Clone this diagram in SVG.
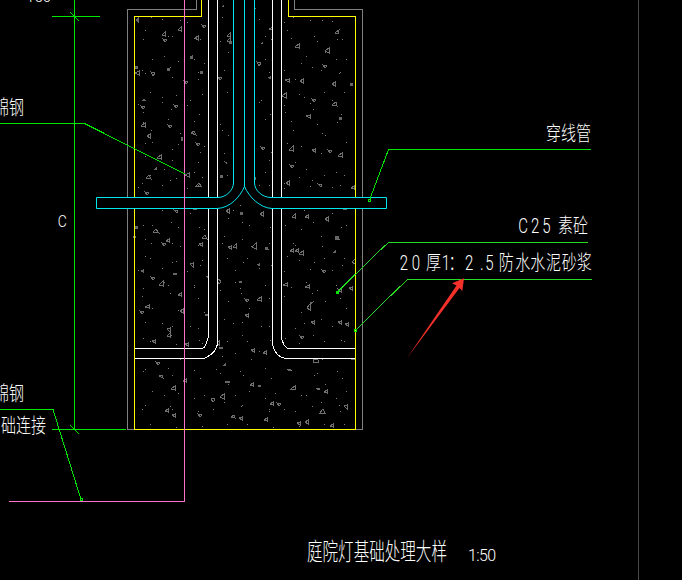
<svg xmlns="http://www.w3.org/2000/svg" width="682" height="580" viewBox="0 0 682 580">
<style>
text{fill:#fff;font-family:Roboto,"Noto Sans CJK SC","Liberation Sans",sans-serif;font-size:20px;font-weight:300}
.ln{fill:none;shape-rendering:crispEdges;stroke-width:1}
.g{stroke:#00e600}.g2{stroke:#22dd22}.w{stroke:#fff}.c{stroke:#00e5ee}.y{stroke:#ffff00}.s{stroke:#808080}.p{stroke:#ff70c8}
.tk{fill:none;stroke:#00e600;stroke-width:1;shape-rendering:crispEdges}
.tri{fill:none;stroke:#6f6f6f;shape-rendering:crispEdges}
.trf{fill:#666;stroke:none;shape-rendering:crispEdges}
</style>
<defs>
<pattern id="dotsA" width="97" height="83" patternUnits="userSpaceOnUse" patternTransform="translate(135 17)">
<path fill="none" stroke="#7c7c7c" shape-rendering="crispEdges" d="M3 4.500h1M27 2.500h1M52 5.500h1M78 3.500h1M8 22.500h1M33 19.500h1M59 21.500h1M85 24.500h1M17 42.500h1M43 44.500h1M69 46.500h1M93 35.500h1M10 56.500h1M37 60.500h1M63 62.500h1M89 53.500h1M15 75.500h1M41 78.500h1M67 77.500h1M92 75.500h1"/>
</pattern>
<pattern id="dotsB" width="71" height="113" patternUnits="userSpaceOnUse" patternTransform="translate(139 23)">
<path fill="none" stroke="#7c7c7c" shape-rendering="crispEdges" d="M6 7.500h1M33 13.500h1M61 16.500h1M25 33.500h1M55 36.500h1M3 47.500h1M31 44.500h1M59 49.500h1M23 74.500h1M51 77.500h1M4 89.500h1M32 86.500h1M60 91.500h1M12 107.500h1M41 110.500h1"/>
</pattern>
</defs>
<rect width="682" height="580" fill="#000"/>
<path d="M638.500 0V580" stroke="#484848" fill="none" shape-rendering="crispEdges"/>

<g id="concrete">
<rect x="135" y="17" width="220" height="412" fill="url(#dotsA)"/>
<rect x="135" y="17" width="220" height="412" fill="url(#dotsB)"/>
<path class="tri" d="M162 35l3-3v4zM163 39l4 1-2 2zM178 30l3-3v4zM195 38l3-2v4zM202 25l4 1-2 2zM135 73l4-2v4zM151 72l4 1-2 3zM184 81l4 1-2 2zM141 106l4 1-2 2zM174 105l4 1-2 2zM218 77l4 1-2 2zM227 36l3-3v4zM227 41l3-3v4zM269 29l4-2v3zM257 62l4 1-2 3zM295 47l4-3v4zM325 51l4-3v5zM335 33l4-3-1 4zM323 65l4 1-2 2zM285 80l4-1v3zM300 81l3-2v4zM332 84l3-2v4zM282 96l4-3v5zM312 99l4 1-2 2zM332 105l4-3 1 4zM306 116l4-1v3zM141 126l4-3v4zM168 125l4 1-2 2zM147 136l3-2v4zM191 133l3-2 2 4zM196 143l4 1-2 2zM157 158l4-3v4zM146 178l3-3 2 4zM185 175l4-2v4zM196 186l3-3 2 3zM145 192l4 1-2 2zM289 150l4-4v5zM312 150l3-1v3zM328 150l4 1-2 2zM338 156l4-3v4zM290 165l4 1-2 2zM318 184l4 1-1 2zM286 183l3-2v4zM351 188l3-2v3zM261 147l4 1-2 2zM226 211l3-2v4zM260 214l3-2v4zM292 217l3-3v4zM305 217l3-2v3zM325 219l3-2v4zM174 210l4 1-1 2zM153 232l3-3 3 4zM166 241l3-2v3zM162 243l4 1-2 2zM202 238l3-3 2 4zM199 244l3-1v3zM190 264l3-1v4zM151 277l4 1-2 2zM159 285l4-4v5zM178 295l3-2v3zM145 307l4-2v3zM140 311l4 1-2 2zM180 311l3-2v4zM167 329l3-1v4zM217 281l2-2 2 3-2 2zM228 247l3-1v3zM233 247l3-3v4zM252 247l4-4v6zM245 299l4 1-2 2zM257 300l4-3v4zM245 315l3-1v3zM290 251l3-2v3zM295 251l3-2v3zM299 254l4-3v4zM352 262l3-3v5zM322 270l4 1-2 2zM283 285l4-2v3zM305 287l4-2v3zM349 288l3-1v3zM338 290l3-1v3zM307 308l3-4v6zM311 322l3-1v3zM338 322l3-1v3zM345 324l3-1v3zM167 336l3-3v4zM152 341l3-1v3zM185 344l3-1v3zM216 343l3-2v4zM251 350l3-1v3zM263 353l3-2v3zM300 336l4 1-2 2zM156 362l4 1-2 2zM159 376l3-1 1 3zM183 381l3-2v3zM171 389l4-3v4zM165 411l3-2v3zM172 415l3-1v3zM198 414l4 1-2 2zM211 399l3-1 1 2-2 2zM220 397l4-3v5zM250 385l3-2v3zM270 404l3-2v3zM277 403l4 1-2 2zM231 417l3-2 1 3zM239 418l3-1v3zM264 420l3-2v3zM291 389l4-3v3zM316 388l4 1-1 1zM324 392l3-2v3zM344 406l3-1v4zM320 413l3-4 2 4zM297 423l3-1v3zM305 422l3-2v4zM330 426l3-2v3zM313 359l5 1v2h-5z"/>
<path class="trf" d="M135 20l4-3v6zM190 56l3-1v4h-3zM135 66h3v3h-3zM167 68h3v3h-3zM200 71h3v3h-3zM141 101l3-3 2 3zM221 7l3-3v3zM254 9l3-3-1 3zM229 41h3v3h-3zM260 44l3-3v3zM267 78l4-2v3zM350 83h3v3h-3zM339 117h3v3h-3zM181 137h2v4h-2zM153 170l4-3v3zM220 175h3v3h-3zM223 161l4 1v2zM253 177h3v3h-3zM240 212h3v3h-3zM343 208h4v2h-4zM193 208h4v2h-4zM135 226h3v3h-3zM133 236h3v2h-3zM140 271l4-2v4zM173 273h4v2h-4zM205 314h4v2h-4zM205 277l4-2v3zM256 265l4-2v3zM265 247h3l1 3h-4zM239 281h3v2h-3zM332 253l4-4v4zM335 236h4v4h-4zM309 303l5-2-2 3zM195 348h4v2h-4zM219 347h4v2h-4zM225 381h5v2h-5zM222 366l4-3v3zM258 385h3v2h-3zM288 369h3v2h-3zM351 358h5v2h-5z"/>
</g>

<g id="sleeve">
<path fill="#000" d="M208.500 0V333C208.500 340 205 348.500 202 348.500H135V358.500H204C212 355 217.500 350 217.500 342V0ZM272.500 0V342C272.500 350 278 358.500 287.500 358.500H355V348.500H289C285 348.500 281.500 342 281.500 335V0Z"/>
<path class="ln w" d="M208.500 0V197M217.500 0V197M208.500 208V333C208.500 340 205 348.500 202 348.500H134.500M217.500 208V342C217.500 350 212 355 204 358.500H134.500M272.500 0V197M281.500 0V197M272.500 208V342C272.500 350 278 358.500 287.500 358.500H355.500M281.500 208V335C281.500 342 285 348.500 289 348.500H355.500"/>
</g>

<g id="outline">
<path class="ln s" d="M196.500 0V9.500H127.500V429.500H134M294.500 0V9.500H362.500V429.500H355"/>
<path class="ln y" d="M201.500 0V16.500H134.500V429.500H355.500V16.500H288.500V0"/>
</g>

<g id="conduit">
<path fill="#000" class="c" stroke-width="1" d="M233.500 0V183C233.500 190 226 197.500 218 197.500H96.500V208.500H217C230 208 240 197 244.500 186.500C249 197 260 208 272 208.500H386.500V197.500H271C262 197.500 254.500 190 254.500 183V0"/>
<path class="ln c" d="M244.500 0V186.500"/>
</g>

<g id="rebar">
<path class="ln p" d="M184.500 0V501.500H9"/>
</g>

<g id="connectors">
<path class="ln g" d="M74.500 0V429.500M52 16.500H100M52 429.500H126"/>
<path class="tk" d="M70 12L79 21M70 425L79 434"/>
<path class="ln g" d="M0 123.500H84.500L185 174M0 409.500H53L81 499.500"/>
<path class="ln g" d="M591 149.500H388.500L369.500 200"/>
<path class="ln g2" d="M588 242.500H388.500L376.700 253.300L337 292.500M592 279.500H407.500L387.700 298.500L355.500 330.500"/>
<rect class="tk" x="368" y="199" width="2" height="2"/>
<rect class="tk" x="336" y="291" width="2" height="2"/>
<rect class="tk" x="354" y="329" width="2" height="2"/>
<rect class="tk" x="80" y="498" width="2" height="2"/>
</g>

<g id="labels">
<text transform="translate(26 2) scale(.95 1)" style="font-size:16px">150</text>
<text transform="translate(-6 115) scale(.75 1)">锦钢</text>
<text transform="translate(-6 401) scale(.75 1)">锦钢</text>
<text transform="translate(1 433) scale(.75 1)">础连接</text>
<text x="57" y="227" style="font-size:17px" transform="translate(11 0) scale(.82 1)">C</text>
<text transform="translate(0 141) scale(.75 1)" x="728">穿线管</text>
<text transform="translate(0 233) scale(.75 1)" x="691 708 723 736 744 764">C25 素砼</text>
<text transform="translate(0 270) scale(.75 1)" x="533 549 568 589 598 620 640 647 665 687 707 728 749 769">20厚1：2.5防水水泥砂浆</text>
<text transform="translate(307 560) scale(.648 1)" style="font-size:24px">庭院灯基础处理大样</text>
<text transform="translate(468 561)" style="font-size:16px" textLength="28" lengthAdjust="spacing">1:50</text>
</g>

<polygon id="red-arrow" fill="#f4302a" points="406.700,358.500 456.500,285.500 452,283.300 464,278.300 462.300,291 459.500,288"/>
</svg>
